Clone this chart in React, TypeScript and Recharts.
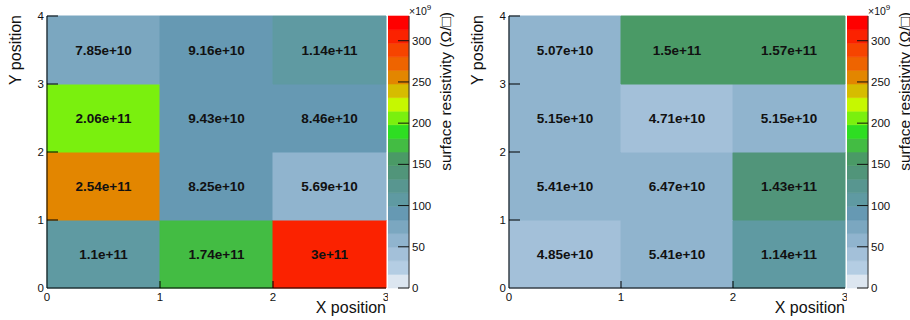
import React from 'react';
import { ScatterChart, ComposedChart, Scatter, XAxis, YAxis, ReferenceArea } from 'recharts';

// cell values, rows from y=0 (bottom) to y=3 (top), columns x=0..2
const leftRows: number[][] = [
  [1.1e11, 1.74e11, 3e11],
  [2.54e11, 8.25e10, 5.69e10],
  [2.06e11, 9.43e10, 8.46e10],
  [7.85e10, 9.16e10, 1.14e11],
];
const rightRows: number[][] = [
  [4.85e10, 5.41e10, 1.14e11],
  [5.41e10, 6.47e10, 1.43e11],
  [5.15e10, 4.71e10, 5.15e10],
  [5.07e10, 1.5e11, 1.57e11],
];

const xTicks = [0, 1, 2, 3];
const yTicks = [0, 1, 2, 3, 4];
const zTicks = [0, 50, 100, 150, 200, 250, 300];
const Z_MAX = 330; // x10^9

// palette bands from bottom (0) to top (330)
const bandColors = [
  '#dce6f0', '#b4cde3', '#a3c0d9', '#90b4ce', '#7ba7c0',
  '#6699b3', '#5f9aa2', '#589690', '#51957a', '#4a9a66',
  '#43bc43', '#2ede22', '#7af00e', '#c6f800', '#d6bc00',
  '#e38600', '#ee6400', '#f64400', '#fb2200', '#ff0000',
];

const FONT = '"Liberation Sans", Arial, Helvetica, sans-serif';
const step = Z_MAX / bandColors.length;

const colorFor = (v: number) => {
  const i = Math.floor(v / 1e9 / step);
  return bandColors[Math.max(0, Math.min(bandColors.length - 1, i))];
};

// ROOT-like %g text: 1.10e+11 -> 1.1e+11
const fmt = (v: number) => {
  const [m, e] = v.toExponential(2).split('e');
  const mant = m.replace(/\.?0+$/, '');
  return `${mant}e${e}`;
};

const XTick = (props: any) => {
  const { x, y, payload } = props;
  const v = payload.value;
  return (
    <g>
      {v > 0 && v < 3 && <line x1={x} x2={x} y1={y} y2={y - 7} stroke="#000" />}
      <text x={x} y={y + 13} textAnchor="middle" fontSize={11.5} fill="#111" fontFamily={FONT}>{v}</text>
    </g>
  );
};

const YTick = (props: any) => {
  const { x, y, payload } = props;
  const v = payload.value;
  return (
    <g>
      {v > 0 && <line x1={x} x2={x + 11} y1={y} y2={y} stroke="#000" />}
      <text x={x - 3} y={y + 4} textAnchor="end" fontSize={11.5} fill="#111" fontFamily={FONT}>{v}</text>
    </g>
  );
};

const ZTick = (props: any) => {
  const { x, y, payload } = props;
  return (
    <g>
      <line x1={x - 11} x2={x} y1={y} y2={y} stroke="#111" />
      <text x={x + 3} y={y + 4} textAnchor="start" fontSize={11.5} fill="#111" fontFamily={FONT}>{payload.value}</text>
    </g>
  );
};

const Panel = ({ rows, left, plotWidth }: { rows: number[][]; left: number; plotWidth: number }) => {
  const centers = rows.flatMap((r, j) => r.map((_, i) => ({ x: i + 0.5, y: j + 0.5 })));
  const mainWidth = 47 + plotWidth + 2;
  const barLeft = left + 47 + plotWidth + 2;
  const bands = bandColors.map((c, k) => ({ c, y1: k * step, y2: (k + 1) * step }));
  const margin = { top: 16, right: 2, bottom: 0, left: 0 };
  return (
    <>
      {/* cells */}
      <div style={{ position: 'absolute', left, top: 0 }}>
        <ScatterChart width={mainWidth} height={320} margin={margin}>
          {rows.map((r, j) =>
            r.map((v, i) => (
              <ReferenceArea
                key={`c-${i}-${j}`}
                x1={i}
                x2={i + 1}
                y1={j}
                y2={j + 1}
                fill={colorFor(v)}
                fillOpacity={1}
                stroke={colorFor(v)}
                strokeWidth={1}
                ifOverflow="visible"
                label={{ value: fmt(v), position: 'center', fill: '#111', fontSize: 13.5, fontWeight: 700, fontFamily: FONT }}
              />
            ))
          )}
          <Scatter data={centers} dataKey="y" shape={() => <g />} isAnimationActive={false} />
          <XAxis type="number" dataKey="x" domain={[0, 3]} height={32} tick={false} tickLine={false} axisLine={false} />
          <YAxis type="number" dataKey="y" domain={[0, 4]} width={47} tick={false} tickLine={false} axisLine={false} />
        </ScatterChart>
      </div>
      {/* axes drawn on top of the cells */}
      <div style={{ position: 'absolute', left, top: 0 }}>
        <ScatterChart width={mainWidth} height={320} margin={margin}>
          <Scatter data={centers} dataKey="y" shape={() => <g />} isAnimationActive={false} />
          <XAxis
            type="number"
            dataKey="x"
            domain={[0, 3]}
            ticks={xTicks}
            interval={0}
            height={32}
            tickSize={0}
            tickMargin={0}
            tickLine={false}
            axisLine={{ stroke: '#000' }}
            tick={<XTick />}
          />
          <YAxis
            type="number"
            dataKey="y"
            domain={[0, 4]}
            ticks={yTicks}
            interval={0}
            width={47}
            tickSize={0}
            tickMargin={0}
            tickLine={false}
            axisLine={{ stroke: '#000' }}
            tick={<YTick />}
          />
          <text x={47 + plotWidth} y={313} textAnchor="end" fontSize={16} fill="#111" fontFamily={FONT}>X position</text>
          <text
            transform={`translate(15, 15) rotate(-90)`}
            x={0}
            y={0}
            textAnchor="end"
            dominantBaseline="central"
            fontSize={16}
            fill="#111"
            fontFamily={FONT}
          >
            Y position
          </text>
        </ScatterChart>
      </div>
      {/* palette */}
      <div style={{ position: 'absolute', left: barLeft, top: 0 }}>
        <ComposedChart width={72} height={320} margin={{ top: 16, right: 0, bottom: 32, left: 0 }}>
          {bands.map((b, k) => (
            <ReferenceArea key={`b-${k}`} y1={b.y1} y2={b.y2} fill={b.c} fillOpacity={1} stroke={b.c} strokeWidth={0.6} />
          ))}
          <Scatter data={[{ x: 0.5, z: 0 }]} dataKey="z" shape={() => <g />} isAnimationActive={false} />
          <XAxis type="number" dataKey="x" domain={[0, 1]} hide />
          <YAxis
            type="number"
            dataKey="z"
            orientation="right"
            domain={[0, Z_MAX]}
            ticks={zTicks}
            interval={0}
            width={51}
            tickSize={0}
            tickMargin={0}
            tickLine={false}
            axisLine={{ stroke: '#333' }}
            tick={<ZTick />}
          />
          <text x={21} y={15} fontSize={10.5} fill="#111" fontFamily={FONT}>
            ×10<tspan dy={-5} fontSize={8}>9</tspan>
          </text>
          <text
            transform={`translate(57, 12) rotate(-90)`}
            x={0}
            y={0}
            textAnchor="end"
            dominantBaseline="central"
            fontSize={15.5}
            fill="#111"
            fontFamily={FONT}
          >
            surface resistivity (Ω/□)
          </text>
        </ComposedChart>
      </div>
    </>
  );
};

const App = () => (
  <div style={{ position: 'absolute', left: 0, top: 0, width: 910, height: 320, background: '#fff' }}>
    <Panel rows={leftRows} left={0} plotWidth={339} />
    <Panel rows={rightRows} left={462} plotWidth={336} />
  </div>
);

export default App;
